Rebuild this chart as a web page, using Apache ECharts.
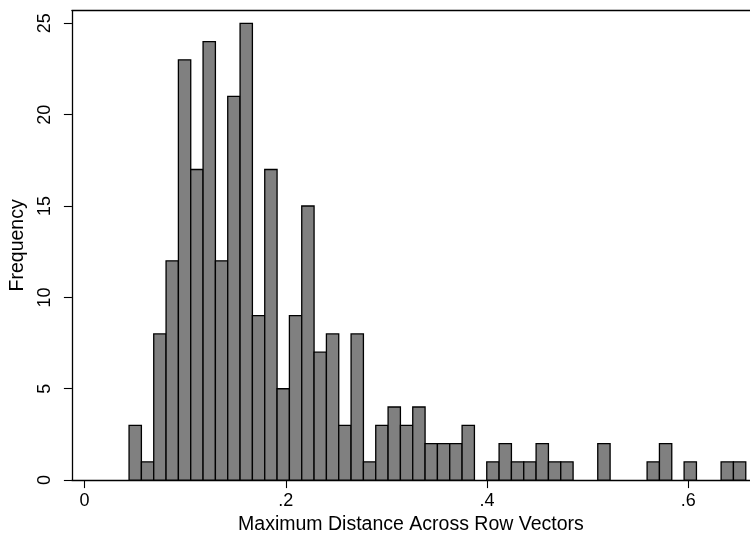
<!DOCTYPE html>
<html>
<head>
<meta charset="utf-8">
<script src="https://cdn.jsdelivr.net/npm/echarts@6/dist/echarts.min.js"></script>
<style>
html,body{margin:0;padding:0;background:#fff;}
#chart{width:750px;height:540px;}
</style>
</head>
<body>
<div id="chart"></div>
<script>
// Histogram definition (50 bins)
var binStart = 0.0443;
var binWidth = 0.012256;
var counts = [3, 1, 8, 12, 23, 17, 24, 12, 21, 25,
              9, 17, 5, 9, 15, 7, 8, 3, 8, 1,
              3, 4, 3, 4, 2, 2, 2, 3, 0, 1,
              2, 1, 1, 2, 1, 1, 0, 0, 2, 0,
              0, 0, 1, 2, 0, 1, 0, 0, 1, 1];
var xTicks = [0, 0.2, 0.4, 0.6];
var yTicks = [0, 5, 10, 15, 20, 25];
var xTitle = 'Maximum Distance Across Row Vectors';
var yTitle = 'Frequency';

var data = [];
for (var i = 0; i < counts.length; i++) {
  if (counts[i] > 0) {
    data.push([binStart + i * binWidth, binStart + (i + 1) * binWidth, counts[i]]);
  }
}

var font = 'Liberation Sans, Arial, Helvetica, sans-serif';
var chart = echarts.init(document.getElementById('chart'));
chart.setOption({
  animation: false,
  backgroundColor: '#fff',
  grid: {left: 65, right: 0, top: 10.7, bottom: 53, containLabel: false},
  xAxis: [{
    type: 'value',
    min: -0.0125,
    max: 0.6613,
    position: 'bottom',
    splitLine: {show: false},
    axisLine: {show: true, onZero: false, lineStyle: {color: '#000', width: 1.3}},
    axisTick: {show: true, length: 8, customValues: xTicks, lineStyle: {color: '#000', width: 1.1}},
    axisLabel: {
      customValues: xTicks, margin: 12, color: '#000', fontSize: 18, fontFamily: font,
      formatter: function (v) { return v === 0 ? '0' : String(v).replace(/^0/, ''); }
    },
    name: xTitle,
    nameLocation: 'middle',
    nameGap: 32,
    nameTextStyle: {color: '#000', fontSize: 19.5, fontFamily: font}
  }, {
    type: 'value',
    min: -0.0125,
    max: 0.6613,
    position: 'top',
    splitLine: {show: false},
    axisLine: {show: true, onZero: false, lineStyle: {color: '#000', width: 1.3}},
    axisTick: {show: false},
    axisLabel: {show: false}
  }],
  yAxis: {
    type: 'value',
    min: 0,
    max: 25.69,
    splitLine: {show: false},
    axisLine: {show: true, onZero: false, lineStyle: {color: '#000', width: 1.3}},
    axisTick: {show: true, length: 8, customValues: yTicks, lineStyle: {color: '#000', width: 1.1}},
    axisLabel: {
      customValues: yTicks, rotate: 90, margin: 18, color: '#000', fontSize: 18, fontFamily: font
    },
    name: yTitle,
    nameLocation: 'middle',
    nameRotate: 90,
    nameGap: 36,
    nameTextStyle: {color: '#000', fontSize: 19.5, fontFamily: font}
  },
  series: [{
    type: 'custom',
    xAxisIndex: 0,
    data: data,
    encode: {x: [0, 1], y: 2},
    renderItem: function (params, api) {
      var p0 = api.coord([api.value(0), api.value(2)]);
      var p1 = api.coord([api.value(1), 0]);
      return {
        type: 'rect',
        shape: {x: p0[0], y: p0[1], width: p1[0] - p0[0], height: p1[1] - p0[1]},
        style: {fill: '#808080', stroke: '#000', lineWidth: 1.3}
      };
    }
  }]
});
</script>
</body>
</html>
